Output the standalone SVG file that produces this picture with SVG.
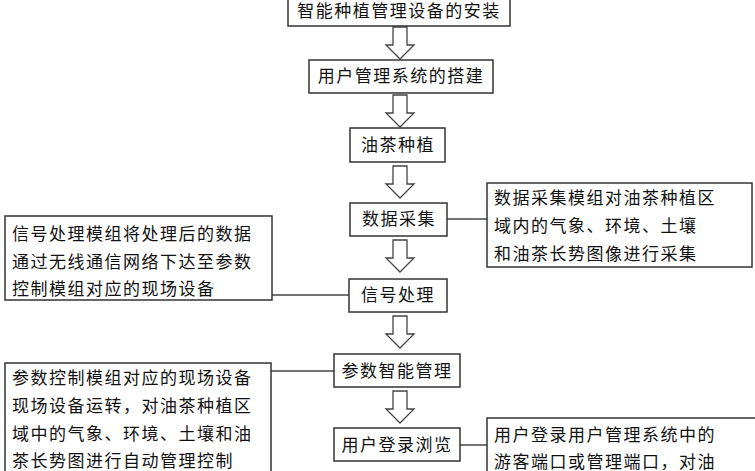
<svg xmlns="http://www.w3.org/2000/svg" width="755" height="471" viewBox="0 0 755 471">
<defs><style>
rect{fill:#fff;stroke:#333;stroke-width:1.5}
text{font-family:"Noto Sans CJK SC",sans-serif;font-size:17px;fill:#111;letter-spacing:1.5px}
.c{text-anchor:middle}
.ar{fill:#fff;stroke:#444;stroke-width:1.3}
line{stroke:#444;stroke-width:1.5}
</style>
<path id="a" class="ar" d="M-7,0 H7 V18 H14 L0,32 L-14,18 H-7 Z"/></defs>
<rect width="755" height="471" style="fill:#fff;stroke:none"/>
<g id="connectors">
<use href="#a" x="400" y="27"/>
<use href="#a" x="400" y="95"/>
<use href="#a" x="400" y="166"/>
<use href="#a" x="400" y="240"/>
<use href="#a" x="400" y="316"/>
<use href="#a" x="400" y="391"/>
<line x1="447" y1="219" x2="487" y2="219"/>
<line x1="272" y1="295" x2="349" y2="295"/>
<line x1="271" y1="371" x2="334" y2="371"/>
<line x1="460" y1="445" x2="487" y2="445"/>
</g>
<g id="n1"><rect x="288" y="-4" width="222" height="30"/><text class="c" x="399" y="17">智能种植管理设备的安装</text></g>
<g id="n2"><rect x="309" y="60" width="184" height="33"/><text class="c" x="401" y="82">用户管理系统的搭建</text></g>
<g id="n3"><rect x="350" y="128" width="95" height="34"/><text class="c" x="398" y="151">油茶种植</text></g>
<g id="n4"><rect x="350" y="203" width="97" height="33"/><text class="c" x="399" y="225">数据采集</text></g>
<g id="n5"><rect x="487" y="183" width="265" height="84"/><text x="494" y="204">数据采集模组对油茶种植区</text><text x="494" y="232">域内的气象、环境、土壤</text><text x="494" y="260">和油茶长势图像进行采集</text></g>
<g id="n6"><rect x="5" y="216" width="267" height="84"/><text x="12" y="240">信号处理模组将处理后的数据</text><text x="12" y="268">通过无线通信网络下达至参数</text><text x="12" y="295">控制模组对应的现场设备</text></g>
<g id="n7"><rect x="349" y="279" width="98" height="33"/><text class="c" x="398" y="301">信号处理</text></g>
<g id="n8"><rect x="334" y="354" width="126" height="33"/><text class="c" x="397" y="377">参数智能管理</text></g>
<g id="n9"><rect x="5" y="363" width="266" height="112"/><text x="12" y="384">参数控制模组对应的现场设备</text><text x="12" y="412">现场设备运转，对油茶种植区</text><text x="12" y="440">域中的气象、环境、土壤和油</text><text x="12" y="467">茶长势图进行自动管理控制</text></g>
<g id="n10"><rect x="334" y="428" width="126" height="33"/><text class="c" x="397" y="451">用户登录浏览</text></g>
<g id="n11"><rect x="487" y="418" width="272" height="60"/><text x="494" y="441">用户登录用户管理系统中的</text><text x="494" y="468">游客端口或管理端口，对油</text></g>
</svg>
